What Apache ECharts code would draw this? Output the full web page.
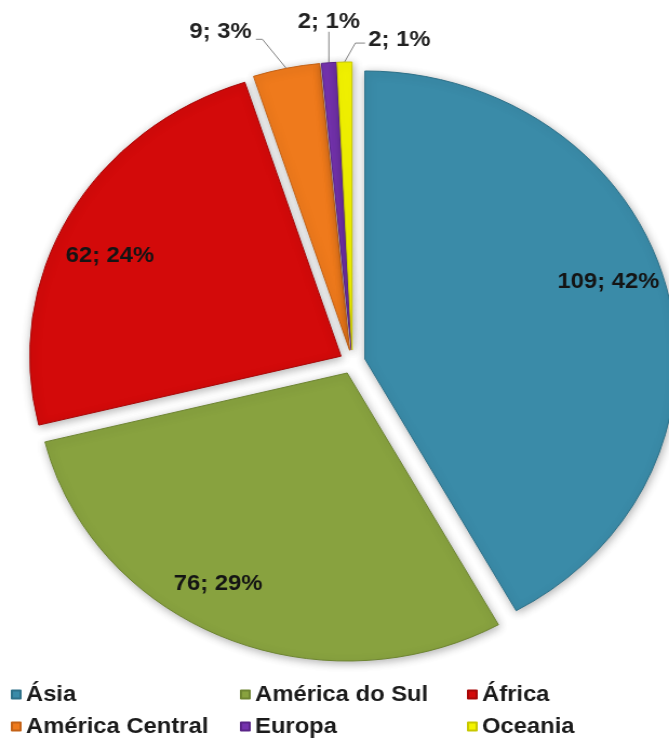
<!DOCTYPE html>
<html>
<head>
<meta charset="utf-8">
<script src="https://cdn.jsdelivr.net/npm/echarts@6/dist/echarts.min.js"></script>
<style>
  html, body { margin: 0; padding: 0; background: #ffffff; overflow: hidden; }
  #wrap { position: relative; width: 669px; height: 740px; overflow: hidden; }
  /* the chart is drawn slightly narrower, then widened to the page */
  #chart { position: absolute; left: 0; top: 0; width: 619px; height: 740px;
           transform: scaleX(1.0808); transform-origin: 0 0; }
</style>
</head>
<body>
<div id="wrap"><div id="chart"></div></div>
<script>
// Regions and their counts
const categories = ['Ásia', 'América do Sul', 'África', 'América Central', 'Europa', 'Oceania'];
const values = [109, 76, 62, 9, 2, 2];
const colors = ['#3A8BA8', '#88A23F', '#D30A0A', '#EF7A1C', '#7533AE', '#F4F400'];
const borders = ['#2E7189', '#6E8532', '#A80808', '#C46216', '#5A2588', '#C8C800'];

// legend columns
const legendCols = [
  ['Ásia', 'América Central'],
  ['América do Sul', 'Europa'],
  ['África', 'Oceania']
];

const FONT = '"Liberation Sans", Arial, sans-serif';
const labelText = p => p.value + '; ' + Math.round(p.percent) + '%';

const center = [326, 362];
const radius = 288;
const offset = 12;

// leader lines for the thin slices: bend and end relative to the slice edge,
// text anchor relative to the end of the line
const leaders = {
  3: { bend: [-22, -29], end: [-28, -29], text: [-4, -7], align: 'right' },
  4: { bend: [0, -31], end: [0, -31], text: [0, -10], align: 'center' },
  5: { bend: [10, -19], end: [19, -19], text: [3, -3], align: 'left' }
};
// small nudges for the labels drawn inside the large slices
const insideNudge = { 0: [-6, -17], 1: [-24, -8], 2: [-5, 16] };

// point on the outer arc of a slice (before it is pulled out), at its middle angle;
// the pulled-out slice carries its label and leader line along with it
function sliceEdge(idx) {
  const total = values.reduce((a, b) => a + b, 0);
  let before = 0;
  for (let i = 0; i < idx; i++) before += values[i];
  const mid = (before + values[idx] / 2) / total * Math.PI * 2;
  return [center[0] + Math.sin(mid) * radius, center[1] - Math.cos(mid) * radius];
}

const mainData = categories.map((name, i) => ({
  name: name,
  value: values[i],
  selected: true,
  itemStyle: { color: colors[i], borderColor: borders[i] },
  label: { show: i >= 3 },
  labelLine: { show: i >= 3 }
}));

const labelData = categories.map((name, i) => ({
  name: name,
  value: values[i],
  selected: true,
  label: { show: i < 3 }
}));

const chart = echarts.init(document.getElementById('chart'), null, { renderer: 'canvas' });

const legends = legendCols.map((col, k) => ({
  data: col,
  orient: 'vertical',
  left: [10, 222, 432][k],
  top: 682,
  padding: 0,
  itemWidth: 8,
  itemHeight: 8,
  itemGap: 7,
  icon: 'rect',
  selectedMode: false,
  textStyle: { fontFamily: FONT, fontWeight: 'bold', fontSize: 22, color: '#1b1b1b', lineHeight: 25 }
}));

chart.setOption({
  animation: false,
  backgroundColor: '#ffffff',
  legend: legends,
  series: [
    {
      type: 'pie',
      name: 'regiões',
      center: center,
      radius: radius,
      startAngle: 90,
      clockwise: true,
      selectedMode: 'multiple',
      selectedOffset: offset,
      avoidLabelOverlap: false,
      emphasis: { disabled: true },
      itemStyle: {
        borderWidth: 1,
        shadowBlur: 8,
        shadowColor: 'rgba(0,0,0,0.30)',
        shadowOffsetX: 1,
        shadowOffsetY: 2
      },
      select: { itemStyle: { borderWidth: 1 } },
      label: {
        position: 'outside',
        formatter: labelText,
        fontFamily: FONT,
        fontWeight: 'bold',
        fontSize: 22,
        color: '#222222'
      },
      labelLine: { lineStyle: { color: '#858585', width: 1 } },
      labelLayout: function (params) {
        const cfg = leaders[params.dataIndex];
        if (!cfg) return;
        const p0 = sliceEdge(params.dataIndex);
        const b = [p0[0] + cfg.bend[0], p0[1] + cfg.bend[1]];
        const e = [p0[0] + cfg.end[0], p0[1] + cfg.end[1]];
        const tx = e[0] + cfg.text[0];
        const ty = e[1] + cfg.text[1];
        const r = params.labelRect;
        let cur = r.x;
        if (cfg.align === 'right') cur = r.x + r.width;
        else if (cfg.align === 'center') cur = r.x + r.width / 2;
        return {
          dx: tx - cur,
          dy: ty - (r.y + r.height / 2),
          labelLinePoints: [p0, b, e]
        };
      },
      data: mainData
    },
    {
      // transparent ring carrying the labels of the large slices
      type: 'pie',
      name: 'rótulos',
      center: center,
      radius: [Math.round(radius * 0.64), radius],
      startAngle: 90,
      clockwise: true,
      silent: true,
      selectedMode: 'multiple',
      selectedOffset: offset,
      avoidLabelOverlap: false,
      emphasis: { disabled: true },
      itemStyle: { color: 'rgba(0,0,0,0)', borderWidth: 0 },
      select: { itemStyle: { color: 'rgba(0,0,0,0)', borderWidth: 0 } },
      label: {
        position: 'inside',
        formatter: labelText,
        fontFamily: FONT,
        fontWeight: 'bold',
        fontSize: 22,
        color: '#141414'
      },
      labelLine: { show: false },
      labelLayout: function (params) {
        const n = insideNudge[params.dataIndex];
        if (!n) return;
        return { dx: n[0], dy: n[1] };
      },
      data: labelData
    }
  ]
});
</script>
</body>
</html>
